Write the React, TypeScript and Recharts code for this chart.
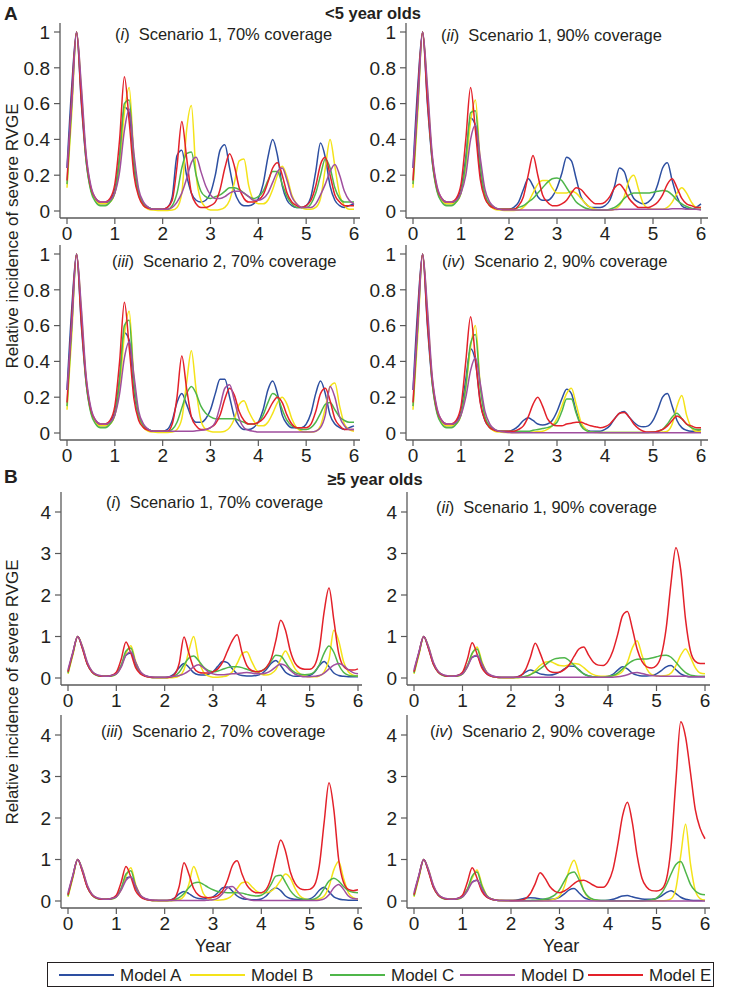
import React from "react"
import { LineChart, Line, XAxis, YAxis } from "recharts"

const FONT = "'Liberation Sans', Arial, Helvetica, sans-serif"

const YEARS = [
  0, 0.1, 0.2, 0.3, 0.4, 0.5, 0.6, 0.7, 0.8, 0.9, 1,
  1.1, 1.2, 1.3, 1.4, 1.5, 1.6, 1.7, 1.8, 1.9, 2,
  2.1, 2.2, 2.3, 2.4, 2.5, 2.6, 2.7, 2.8, 2.9, 3,
  3.1, 3.2, 3.3, 3.4, 3.5, 3.6, 3.7, 3.8, 3.9, 4,
  4.1, 4.2, 4.3, 4.4, 4.5, 4.6, 4.7, 4.8, 4.9, 5,
  5.1, 5.2, 5.3, 5.4, 5.5, 5.6, 5.7, 5.8, 5.9, 6,
]

const X_TICKS = [0, 1, 2, 3, 4, 5, 6]
const Y_TICKS_U5 = [0, 0.2, 0.4, 0.6, 0.8, 1]
const Y_TICKS_O5 = [0, 1, 2, 3, 4]

const MODELS = ["Model A", "Model B", "Model C", "Model D", "Model E"]
const COLORS = ["#2d4fa1", "#f4e31a", "#4fb64a", "#a04f9f", "#e3212a"]

// ---- <5 year olds, Scenario 1, 70% coverage ----
const U5_S1_70_A = [
  0.24, 0.70, 1.00, 0.60, 0.28, 0.12, 0.06, 0.04, 0.04, 0.06, 0.12, 0.30, 0.58, 0.55, 0.25, 0.09, 0.04, 0.02, 0.01, 0.01, 0.01,
  0.02, 0.08, 0.31, 0.34, 0.20, 0.10, 0.06, 0.05, 0.06, 0.10,
  0.20, 0.34, 0.37, 0.24, 0.11, 0.05, 0.03, 0.03, 0.04, 0.07,
  0.15, 0.30, 0.40, 0.31, 0.14, 0.06, 0.03, 0.02, 0.02, 0.03,
  0.08, 0.22, 0.38, 0.30, 0.14, 0.06, 0.03, 0.02, 0.03, 0.04,
]
const U5_S1_70_B = [
  0.13, 0.55, 1.00, 0.68, 0.30, 0.12, 0.06, 0.04, 0.04, 0.05, 0.10, 0.25, 0.55, 0.69, 0.30, 0.10, 0.03, 0.01, 0.005, 0.003, 0.003,
  0.003, 0.005, 0.02, 0.10, 0.45, 0.59, 0.20, 0.06, 0.02, 0.006,
  0.005, 0.008, 0.02, 0.06, 0.16, 0.28, 0.29, 0.14, 0.06, 0.04,
  0.04, 0.06, 0.12, 0.20, 0.25, 0.19, 0.09, 0.04, 0.02, 0.01,
  0.01, 0.02, 0.07, 0.24, 0.40, 0.25, 0.09, 0.03, 0.01, 0.01,
]
const U5_S1_70_C = [
  0.15, 0.60, 1.00, 0.65, 0.28, 0.11, 0.05, 0.03, 0.03, 0.05, 0.10, 0.30, 0.60, 0.62, 0.28, 0.10, 0.04, 0.02, 0.01, 0.01, 0.01,
  0.01, 0.03, 0.10, 0.24, 0.32, 0.33, 0.20, 0.11, 0.08, 0.07,
  0.08, 0.09, 0.11, 0.13, 0.13, 0.12, 0.10, 0.08, 0.07, 0.08,
  0.11, 0.17, 0.22, 0.22, 0.15, 0.08, 0.04, 0.02, 0.02, 0.02,
  0.04, 0.10, 0.20, 0.29, 0.24, 0.13, 0.07, 0.05, 0.05, 0.05,
]
const U5_S1_70_D = [
  0.24, 0.60, 1.00, 0.70, 0.32, 0.14, 0.07, 0.05, 0.05, 0.06, 0.10, 0.22, 0.45, 0.57, 0.32, 0.12, 0.05, 0.02, 0.01, 0.01, 0.01,
  0.01, 0.02, 0.05, 0.10, 0.18, 0.27, 0.30, 0.22, 0.14, 0.09,
  0.07, 0.07, 0.08, 0.10, 0.11, 0.11, 0.10, 0.08, 0.06, 0.06,
  0.07, 0.10, 0.16, 0.22, 0.24, 0.17, 0.08, 0.04, 0.02, 0.02,
  0.02, 0.04, 0.09, 0.15, 0.22, 0.26, 0.20, 0.11, 0.06, 0.04,
]
const U5_S1_70_E = [
  0.17, 0.65, 1.00, 0.62, 0.30, 0.13, 0.07, 0.05, 0.05, 0.07, 0.15, 0.40, 0.75, 0.50, 0.20, 0.08, 0.03, 0.015, 0.01, 0.01, 0.01,
  0.02, 0.06, 0.25, 0.50, 0.30, 0.10, 0.04, 0.02, 0.02, 0.03,
  0.05, 0.12, 0.24, 0.32, 0.25, 0.13, 0.07, 0.05, 0.05, 0.06,
  0.09, 0.16, 0.24, 0.27, 0.20, 0.10, 0.05, 0.03, 0.02, 0.03,
  0.06, 0.14, 0.26, 0.30, 0.20, 0.09, 0.05, 0.03, 0.03, 0.03,
]

// ---- <5 year olds, Scenario 1, 90% coverage ----
const U5_S1_90_A = [
  0.24, 0.70, 1.00, 0.60, 0.28, 0.12, 0.06, 0.04, 0.04, 0.06, 0.12, 0.30, 0.52, 0.48, 0.22, 0.08, 0.03, 0.015, 0.01, 0.01, 0.01,
  0.02, 0.05, 0.12, 0.18, 0.14, 0.08, 0.06, 0.06, 0.08, 0.13,
  0.21, 0.30, 0.28, 0.18, 0.08, 0.04, 0.02, 0.02, 0.02, 0.03,
  0.06, 0.14, 0.24, 0.22, 0.13, 0.07, 0.05, 0.04, 0.05, 0.08,
  0.15, 0.24, 0.27, 0.17, 0.08, 0.03, 0.015, 0.01, 0.02, 0.04,
]
const U5_S1_90_B = [
  0.13, 0.55, 1.00, 0.68, 0.30, 0.12, 0.06, 0.04, 0.04, 0.05, 0.10, 0.25, 0.50, 0.62, 0.28, 0.09, 0.03, 0.01, 0.005, 0.003, 0.003,
  0.003, 0.005, 0.02, 0.05, 0.10, 0.15, 0.17, 0.17, 0.13, 0.10,
  0.10, 0.10, 0.11, 0.10, 0.07, 0.04, 0.02, 0.01, 0.005, 0.005,
  0.005, 0.01, 0.03, 0.08, 0.17, 0.20, 0.12, 0.04, 0.015, 0.01,
  0.01, 0.01, 0.02, 0.05, 0.10, 0.13, 0.10, 0.05, 0.02, 0.02,
]
const U5_S1_90_C = [
  0.15, 0.60, 1.00, 0.65, 0.28, 0.11, 0.05, 0.03, 0.03, 0.05, 0.10, 0.28, 0.55, 0.56, 0.26, 0.09, 0.04, 0.02, 0.01, 0.01, 0.01,
  0.01, 0.02, 0.03, 0.05, 0.07, 0.10, 0.13, 0.16, 0.18, 0.185,
  0.17, 0.13, 0.09, 0.05, 0.03, 0.015, 0.008, 0.005, 0.005, 0.005,
  0.01, 0.02, 0.04, 0.07, 0.09, 0.10, 0.10, 0.10, 0.10, 0.105,
  0.11, 0.115, 0.11, 0.09, 0.06, 0.04, 0.025, 0.015, 0.01, 0.01,
]
const U5_S1_90_D = [
  0.24, 0.60, 1.00, 0.70, 0.32, 0.14, 0.07, 0.05, 0.05, 0.06, 0.10, 0.20, 0.40, 0.48, 0.30, 0.12, 0.05, 0.02, 0.01, 0.005, 0.005,
  0.005, 0.005, 0.005, 0.005, 0.005, 0.005, 0.005, 0.005, 0.005, 0.005,
  0.005, 0.005, 0.005, 0.005, 0.005, 0.005, 0.005, 0.005, 0.005, 0.005,
  0.006, 0.008, 0.01, 0.01, 0.01, 0.01, 0.01, 0.01, 0.01, 0.01,
  0.01, 0.01, 0.01, 0.012, 0.012, 0.012, 0.01, 0.01, 0.01, 0.005,
]
const U5_S1_90_E = [
  0.17, 0.65, 1.00, 0.62, 0.30, 0.13, 0.07, 0.05, 0.05, 0.07, 0.15, 0.40, 0.69, 0.45, 0.18, 0.07, 0.03, 0.015, 0.01, 0.01, 0.01,
  0.01, 0.03, 0.08, 0.20, 0.31, 0.20, 0.09, 0.05, 0.03, 0.03,
  0.04, 0.06, 0.10, 0.13, 0.12, 0.09, 0.06, 0.04, 0.04, 0.05,
  0.08, 0.13, 0.15, 0.12, 0.07, 0.04, 0.02, 0.02, 0.02, 0.03,
  0.05, 0.09, 0.15, 0.18, 0.13, 0.07, 0.04, 0.03, 0.02, 0.02,
]

// ---- <5 year olds, Scenario 2, 70% coverage ----
const U5_S2_70_A = [
  0.24, 0.70, 1.00, 0.60, 0.28, 0.12, 0.06, 0.04, 0.04, 0.06, 0.12, 0.30, 0.56, 0.52, 0.24, 0.09, 0.04, 0.02, 0.01, 0.01, 0.01,
  0.02, 0.07, 0.17, 0.22, 0.16, 0.09, 0.06, 0.06, 0.08, 0.13,
  0.22, 0.30, 0.30, 0.20, 0.09, 0.04, 0.02, 0.02, 0.03, 0.06,
  0.13, 0.24, 0.29, 0.22, 0.10, 0.05, 0.03, 0.03, 0.03, 0.05,
  0.11, 0.22, 0.29, 0.22, 0.10, 0.05, 0.03, 0.02, 0.03, 0.04,
]
const U5_S2_70_B = [
  0.13, 0.55, 1.00, 0.68, 0.30, 0.12, 0.06, 0.04, 0.04, 0.05, 0.10, 0.25, 0.55, 0.68, 0.30, 0.10, 0.03, 0.01, 0.005, 0.003, 0.003,
  0.003, 0.005, 0.02, 0.08, 0.28, 0.46, 0.24, 0.07, 0.02, 0.008,
  0.005, 0.006, 0.01, 0.03, 0.08, 0.16, 0.18, 0.12, 0.07, 0.04,
  0.04, 0.06, 0.11, 0.17, 0.20, 0.16, 0.08, 0.03, 0.01, 0.005,
  0.005, 0.01, 0.04, 0.14, 0.26, 0.28, 0.15, 0.05, 0.02, 0.01,
]
const U5_S2_70_C = [
  0.15, 0.60, 1.00, 0.65, 0.28, 0.11, 0.05, 0.03, 0.03, 0.05, 0.10, 0.30, 0.60, 0.63, 0.28, 0.10, 0.04, 0.02, 0.01, 0.01, 0.01,
  0.01, 0.02, 0.06, 0.14, 0.22, 0.26, 0.22, 0.15, 0.11, 0.09,
  0.08, 0.08, 0.08, 0.08, 0.08, 0.07, 0.06, 0.05, 0.05, 0.06,
  0.10, 0.17, 0.22, 0.20, 0.13, 0.07, 0.04, 0.03, 0.02, 0.02,
  0.03, 0.06, 0.11, 0.16, 0.17, 0.13, 0.09, 0.07, 0.06, 0.06,
]
const U5_S2_70_D = [
  0.24, 0.60, 1.00, 0.70, 0.32, 0.14, 0.07, 0.05, 0.05, 0.06, 0.10, 0.22, 0.42, 0.51, 0.32, 0.12, 0.05, 0.02, 0.01, 0.01, 0.01,
  0.01, 0.01, 0.01, 0.01, 0.01, 0.01, 0.012, 0.015, 0.02, 0.03,
  0.06, 0.15, 0.25, 0.27, 0.18, 0.08, 0.03, 0.015, 0.01, 0.005,
  0.005, 0.005, 0.005, 0.005, 0.005, 0.005, 0.005, 0.005, 0.005, 0.005,
  0.006, 0.01, 0.03, 0.10, 0.26, 0.20, 0.09, 0.04, 0.02, 0.02,
]
const U5_S2_70_E = [
  0.17, 0.65, 1.00, 0.62, 0.30, 0.13, 0.07, 0.05, 0.05, 0.07, 0.15, 0.40, 0.73, 0.48, 0.19, 0.07, 0.03, 0.015, 0.01, 0.01, 0.01,
  0.01, 0.05, 0.20, 0.43, 0.25, 0.09, 0.04, 0.02, 0.02, 0.03,
  0.05, 0.10, 0.19, 0.25, 0.21, 0.12, 0.07, 0.05, 0.05, 0.06,
  0.08, 0.12, 0.17, 0.20, 0.17, 0.10, 0.05, 0.03, 0.03, 0.03,
  0.05, 0.12, 0.22, 0.25, 0.18, 0.08, 0.04, 0.02, 0.02, 0.02,
]

// ---- <5 year olds, Scenario 2, 90% coverage ----
const U5_S2_90_A = [
  0.24, 0.70, 1.00, 0.60, 0.28, 0.12, 0.06, 0.04, 0.04, 0.06, 0.12, 0.30, 0.47, 0.40, 0.18, 0.07, 0.03, 0.015, 0.01, 0.01, 0.01,
  0.02, 0.04, 0.07, 0.085, 0.07, 0.05, 0.045, 0.05, 0.07, 0.12,
  0.19, 0.245, 0.22, 0.12, 0.05, 0.02, 0.01, 0.01, 0.01, 0.02,
  0.04, 0.08, 0.11, 0.12, 0.09, 0.06, 0.04, 0.035, 0.04, 0.07,
  0.13, 0.20, 0.22, 0.15, 0.07, 0.03, 0.015, 0.01, 0.01, 0.02,
]
const U5_S2_90_B = [
  0.13, 0.55, 1.00, 0.68, 0.30, 0.12, 0.06, 0.04, 0.04, 0.05, 0.10, 0.25, 0.48, 0.60, 0.27, 0.09, 0.03, 0.01, 0.005, 0.003, 0.003,
  0.003, 0.003, 0.004, 0.005, 0.006, 0.008, 0.01, 0.02, 0.04, 0.08,
  0.15, 0.22, 0.25, 0.16, 0.06, 0.02, 0.005, 0.003, 0.003, 0.003,
  0.003, 0.003, 0.003, 0.003, 0.003, 0.003, 0.003, 0.003, 0.003, 0.003,
  0.003, 0.005, 0.01, 0.05, 0.15, 0.21, 0.10, 0.03, 0.01, 0.01,
]
const U5_S2_90_C = [
  0.15, 0.60, 1.00, 0.65, 0.28, 0.11, 0.05, 0.03, 0.03, 0.05, 0.10, 0.26, 0.50, 0.55, 0.26, 0.09, 0.04, 0.02, 0.01, 0.01, 0.01,
  0.01, 0.01, 0.01, 0.01, 0.015, 0.02, 0.025, 0.03, 0.04, 0.06,
  0.12, 0.19, 0.19, 0.11, 0.04, 0.015, 0.005, 0.004, 0.003, 0.003,
  0.003, 0.003, 0.003, 0.003, 0.003, 0.003, 0.003, 0.003, 0.003, 0.005,
  0.01, 0.02, 0.05, 0.09, 0.11, 0.08, 0.05, 0.03, 0.02, 0.02,
]
const U5_S2_90_D = [
  0.24, 0.60, 1.00, 0.70, 0.32, 0.14, 0.07, 0.05, 0.05, 0.06, 0.10, 0.20, 0.35, 0.42, 0.28, 0.12, 0.05, 0.02, 0.01, 0.005, 0.003,
  0.002, 0.002, 0.002, 0.002, 0.002, 0.002, 0.002, 0.002, 0.002, 0.002,
  0.002, 0.002, 0.002, 0.002, 0.002, 0.002, 0.002, 0.002, 0.002, 0.002,
  0.002, 0.002, 0.002, 0.002, 0.002, 0.002, 0.002, 0.002, 0.002, 0.002,
  0.002, 0.002, 0.002, 0.002, 0.002, 0.002, 0.002, 0.002, 0.002, 0.002,
]
const U5_S2_90_E = [
  0.17, 0.65, 1.00, 0.62, 0.30, 0.13, 0.07, 0.05, 0.05, 0.07, 0.15, 0.40, 0.65, 0.42, 0.17, 0.07, 0.03, 0.015, 0.01, 0.01, 0.01,
  0.01, 0.02, 0.04, 0.09, 0.16, 0.20, 0.15, 0.08, 0.05, 0.04,
  0.04, 0.05, 0.055, 0.06, 0.06, 0.05, 0.04, 0.035, 0.03, 0.035,
  0.05, 0.08, 0.11, 0.115, 0.09, 0.05, 0.025, 0.01, 0.005, 0.005,
  0.01, 0.02, 0.04, 0.07, 0.095, 0.08, 0.05, 0.04, 0.03, 0.03,
]

// ---- >=5 year olds, Scenario 1, 70% coverage ----
const O5_S1_70_A = [
  0.15, 0.60, 1.00, 0.72, 0.34, 0.15, 0.07, 0.04, 0.04, 0.06, 0.12, 0.30, 0.55, 0.60, 0.32, 0.12, 0.05, 0.02, 0.01, 0.01, 0.01,
  0.03, 0.10, 0.25, 0.35, 0.26, 0.13, 0.08, 0.07, 0.09, 0.15,
  0.28, 0.40, 0.37, 0.22, 0.10, 0.06, 0.05, 0.05, 0.06, 0.10,
  0.20, 0.35, 0.42, 0.30, 0.14, 0.07, 0.04, 0.04, 0.04, 0.06,
  0.14, 0.30, 0.40, 0.27, 0.12, 0.06, 0.04, 0.03, 0.03, 0.03,
]
const O5_S1_70_B = [
  0.10, 0.55, 1.00, 0.75, 0.36, 0.15, 0.07, 0.04, 0.04, 0.05, 0.10, 0.28, 0.60, 0.78, 0.40, 0.14, 0.05, 0.02, 0.01, 0.005, 0.005,
  0.005, 0.01, 0.05, 0.20, 0.65, 1.00, 0.45, 0.15, 0.05, 0.02,
  0.02, 0.03, 0.06, 0.15, 0.35, 0.58, 0.63, 0.40, 0.18, 0.09,
  0.07, 0.10, 0.20, 0.45, 0.65, 0.45, 0.22, 0.10, 0.05, 0.03,
  0.03, 0.05, 0.15, 0.45, 1.15, 0.90, 0.40, 0.15, 0.07, 0.05,
]
const O5_S1_70_C = [
  0.12, 0.58, 1.00, 0.72, 0.34, 0.14, 0.06, 0.04, 0.04, 0.05, 0.10, 0.30, 0.65, 0.72, 0.36, 0.13, 0.05, 0.02, 0.01, 0.01, 0.01,
  0.02, 0.05, 0.14, 0.32, 0.48, 0.53, 0.42, 0.27, 0.18, 0.15,
  0.17, 0.21, 0.25, 0.27, 0.27, 0.25, 0.21, 0.17, 0.15, 0.17,
  0.25, 0.40, 0.55, 0.53, 0.38, 0.22, 0.13, 0.09, 0.08, 0.09,
  0.15, 0.32, 0.60, 0.77, 0.62, 0.32, 0.14, 0.07, 0.05, 0.05,
]
const O5_S1_70_D = [
  0.20, 0.62, 1.00, 0.75, 0.38, 0.16, 0.08, 0.05, 0.04, 0.06, 0.10, 0.26, 0.55, 0.63, 0.38, 0.15, 0.06, 0.03, 0.02, 0.02, 0.02,
  0.03, 0.04, 0.06, 0.10, 0.17, 0.27, 0.32, 0.25, 0.15, 0.10,
  0.08, 0.08, 0.09, 0.10, 0.11, 0.12, 0.13, 0.12, 0.10, 0.10,
  0.12, 0.18, 0.27, 0.34, 0.30, 0.18, 0.09, 0.05, 0.03, 0.03,
  0.04, 0.06, 0.12, 0.22, 0.31, 0.35, 0.30, 0.20, 0.13, 0.10,
]
const O5_S1_70_E = [
  0.15, 0.60, 1.00, 0.70, 0.33, 0.14, 0.07, 0.04, 0.04, 0.06, 0.14, 0.45, 0.87, 0.60, 0.25, 0.10, 0.04, 0.02, 0.01, 0.01, 0.01,
  0.02, 0.08, 0.35, 0.99, 0.60, 0.25, 0.14, 0.12, 0.12, 0.15,
  0.22, 0.38, 0.65, 0.90, 1.04, 0.62, 0.30, 0.18, 0.15, 0.17,
  0.25, 0.45, 0.90, 1.39, 1.15, 0.65, 0.35, 0.24, 0.21, 0.21,
  0.30, 0.70, 1.60, 2.17, 1.40, 0.60, 0.28, 0.20, 0.19, 0.22,
]

// ---- >=5 year olds, Scenario 1, 90% coverage ----
const O5_S1_90_A = [
  0.15, 0.60, 1.00, 0.72, 0.34, 0.15, 0.07, 0.04, 0.04, 0.06, 0.12, 0.30, 0.50, 0.53, 0.28, 0.10, 0.04, 0.02, 0.01, 0.01, 0.01,
  0.02, 0.06, 0.14, 0.19, 0.15, 0.10, 0.08, 0.07, 0.09, 0.14,
  0.22, 0.29, 0.28, 0.20, 0.10, 0.05, 0.03, 0.02, 0.02, 0.04,
  0.09, 0.19, 0.27, 0.22, 0.12, 0.07, 0.05, 0.05, 0.06, 0.10,
  0.18, 0.27, 0.30, 0.20, 0.10, 0.05, 0.03, 0.03, 0.03, 0.03,
]
const O5_S1_90_B = [
  0.10, 0.55, 1.00, 0.75, 0.36, 0.15, 0.07, 0.04, 0.04, 0.05, 0.10, 0.28, 0.58, 0.75, 0.40, 0.14, 0.05, 0.02, 0.01, 0.005, 0.005,
  0.005, 0.01, 0.03, 0.08, 0.18, 0.30, 0.38, 0.40, 0.35, 0.30,
  0.29, 0.32, 0.35, 0.33, 0.25, 0.15, 0.08, 0.05, 0.04, 0.04,
  0.05, 0.08, 0.16, 0.38, 0.72, 0.90, 0.55, 0.22, 0.08, 0.05,
  0.05, 0.06, 0.12, 0.30, 0.55, 0.70, 0.50, 0.25, 0.12, 0.10,
]
const O5_S1_90_C = [
  0.12, 0.58, 1.00, 0.72, 0.34, 0.14, 0.06, 0.04, 0.04, 0.05, 0.10, 0.28, 0.60, 0.70, 0.36, 0.13, 0.05, 0.02, 0.01, 0.01, 0.01,
  0.01, 0.02, 0.04, 0.08, 0.14, 0.22, 0.31, 0.40, 0.46, 0.48,
  0.49, 0.42, 0.31, 0.19, 0.10, 0.05, 0.03, 0.02, 0.02, 0.03,
  0.06, 0.12, 0.22, 0.33, 0.41, 0.45, 0.46, 0.46, 0.48, 0.51,
  0.54, 0.55, 0.50, 0.38, 0.24, 0.13, 0.07, 0.05, 0.04, 0.04,
]
const O5_S1_90_D = [
  0.20, 0.62, 1.00, 0.75, 0.38, 0.16, 0.08, 0.05, 0.04, 0.06, 0.10, 0.26, 0.50, 0.55, 0.34, 0.14, 0.06, 0.03, 0.02, 0.02, 0.02,
  0.02, 0.02, 0.02, 0.02, 0.02, 0.02, 0.02, 0.02, 0.02, 0.02,
  0.02, 0.02, 0.02, 0.02, 0.02, 0.02, 0.02, 0.02, 0.02, 0.02,
  0.02, 0.03, 0.05, 0.08, 0.12, 0.13, 0.11, 0.08, 0.06, 0.05,
  0.04, 0.04, 0.04, 0.04, 0.04, 0.04, 0.03, 0.03, 0.03, 0.03,
]
const O5_S1_90_E = [
  0.15, 0.60, 1.00, 0.70, 0.33, 0.14, 0.07, 0.04, 0.04, 0.06, 0.14, 0.45, 0.85, 0.58, 0.24, 0.10, 0.04, 0.02, 0.01, 0.01, 0.01,
  0.02, 0.06, 0.20, 0.50, 0.84, 0.60, 0.30, 0.16, 0.13, 0.14,
  0.20, 0.32, 0.52, 0.70, 0.75, 0.55, 0.38, 0.31, 0.30, 0.40,
  0.65, 1.05, 1.50, 1.60, 1.20, 0.70, 0.40, 0.27, 0.24, 0.30,
  0.55, 1.20, 2.30, 3.14, 2.60, 1.40, 0.65, 0.40, 0.35, 0.35,
]

// ---- >=5 year olds, Scenario 2, 70% coverage ----
const O5_S2_70_A = [
  0.15, 0.60, 1.00, 0.72, 0.34, 0.15, 0.07, 0.04, 0.04, 0.06, 0.12, 0.30, 0.55, 0.58, 0.32, 0.12, 0.05, 0.02, 0.01, 0.01, 0.01,
  0.02, 0.07, 0.17, 0.23, 0.18, 0.10, 0.06, 0.05, 0.06, 0.10,
  0.20, 0.32, 0.34, 0.24, 0.12, 0.06, 0.04, 0.03, 0.03, 0.05,
  0.12, 0.25, 0.32, 0.25, 0.12, 0.06, 0.04, 0.03, 0.03, 0.05,
  0.12, 0.26, 0.33, 0.22, 0.10, 0.05, 0.03, 0.02, 0.02, 0.02,
]
const O5_S2_70_B = [
  0.10, 0.55, 1.00, 0.75, 0.36, 0.15, 0.07, 0.04, 0.04, 0.05, 0.10, 0.28, 0.60, 0.80, 0.40, 0.14, 0.05, 0.02, 0.01, 0.005, 0.005,
  0.005, 0.01, 0.03, 0.12, 0.40, 0.83, 0.55, 0.18, 0.06, 0.03,
  0.02, 0.03, 0.06, 0.14, 0.30, 0.44, 0.46, 0.35, 0.24, 0.20,
  0.20, 0.24, 0.33, 0.50, 0.65, 0.55, 0.30, 0.12, 0.05, 0.03,
  0.03, 0.05, 0.12, 0.35, 0.75, 0.95, 0.55, 0.20, 0.08, 0.05,
]
const O5_S2_70_C = [
  0.12, 0.58, 1.00, 0.72, 0.34, 0.14, 0.06, 0.04, 0.04, 0.05, 0.10, 0.30, 0.65, 0.73, 0.36, 0.13, 0.05, 0.02, 0.01, 0.01, 0.01,
  0.01, 0.03, 0.08, 0.18, 0.32, 0.43, 0.45, 0.40, 0.33, 0.27,
  0.23, 0.21, 0.20, 0.20, 0.20, 0.19, 0.16, 0.13, 0.12, 0.14,
  0.22, 0.40, 0.60, 0.62, 0.45, 0.25, 0.12, 0.06, 0.04, 0.03,
  0.05, 0.12, 0.30, 0.48, 0.55, 0.48, 0.35, 0.25, 0.21, 0.20,
]
const O5_S2_70_D = [
  0.20, 0.62, 1.00, 0.75, 0.38, 0.16, 0.08, 0.05, 0.04, 0.06, 0.10, 0.26, 0.50, 0.58, 0.36, 0.14, 0.06, 0.03, 0.02, 0.01, 0.01,
  0.01, 0.01, 0.01, 0.01, 0.01, 0.01, 0.01, 0.01, 0.02, 0.03,
  0.07, 0.18, 0.32, 0.35, 0.24, 0.12, 0.05, 0.02, 0.01, 0.01,
  0.01, 0.01, 0.01, 0.01, 0.01, 0.01, 0.01, 0.01, 0.01, 0.01,
  0.01, 0.02, 0.05, 0.15, 0.32, 0.40, 0.28, 0.12, 0.06, 0.05,
]
const O5_S2_70_E = [
  0.15, 0.60, 1.00, 0.70, 0.33, 0.14, 0.07, 0.04, 0.04, 0.06, 0.14, 0.45, 0.83, 0.58, 0.24, 0.10, 0.04, 0.02, 0.01, 0.01, 0.01,
  0.02, 0.06, 0.35, 0.92, 0.65, 0.30, 0.14, 0.09, 0.08, 0.09,
  0.13, 0.25, 0.50, 0.85, 0.97, 0.65, 0.38, 0.25, 0.20, 0.20,
  0.28, 0.55, 1.05, 1.47, 1.20, 0.70, 0.42, 0.30, 0.27, 0.28,
  0.38, 0.85, 1.90, 2.85, 2.20, 1.00, 0.45, 0.28, 0.25, 0.27,
]

// ---- >=5 year olds, Scenario 2, 90% coverage ----
const O5_S2_90_A = [
  0.15, 0.60, 1.00, 0.72, 0.34, 0.15, 0.07, 0.04, 0.04, 0.06, 0.12, 0.28, 0.46, 0.50, 0.28, 0.10, 0.04, 0.02, 0.01, 0.01, 0.01,
  0.02, 0.04, 0.07, 0.08, 0.07, 0.05, 0.04, 0.04, 0.05, 0.09,
  0.17, 0.27, 0.30, 0.20, 0.09, 0.04, 0.02, 0.01, 0.01, 0.02,
  0.04, 0.08, 0.12, 0.13, 0.10, 0.07, 0.05, 0.04, 0.04, 0.06,
  0.12, 0.20, 0.25, 0.18, 0.09, 0.04, 0.02, 0.01, 0.01, 0.01,
]
const O5_S2_90_B = [
  0.10, 0.55, 1.00, 0.75, 0.36, 0.15, 0.07, 0.04, 0.04, 0.05, 0.10, 0.28, 0.55, 0.75, 0.40, 0.14, 0.05, 0.02, 0.01, 0.005, 0.005,
  0.005, 0.005, 0.005, 0.005, 0.005, 0.008, 0.012, 0.02, 0.05, 0.12,
  0.35, 0.75, 0.98, 0.65, 0.25, 0.08, 0.03, 0.01, 0.005, 0.005,
  0.005, 0.005, 0.005, 0.005, 0.005, 0.005, 0.005, 0.005, 0.005, 0.005,
  0.005, 0.01, 0.05, 0.30, 1.10, 1.85, 0.90, 0.25, 0.06, 0.02,
]
const O5_S2_90_C = [
  0.12, 0.58, 1.00, 0.72, 0.34, 0.14, 0.06, 0.04, 0.04, 0.05, 0.10, 0.28, 0.60, 0.70, 0.36, 0.13, 0.05, 0.02, 0.01, 0.01, 0.01,
  0.01, 0.01, 0.01, 0.015, 0.02, 0.03, 0.05, 0.08, 0.14, 0.27,
  0.48, 0.66, 0.70, 0.52, 0.25, 0.10, 0.04, 0.02, 0.01, 0.01,
  0.005, 0.005, 0.005, 0.005, 0.005, 0.005, 0.008, 0.015, 0.03, 0.07,
  0.18, 0.38, 0.65, 0.88, 0.95, 0.70, 0.40, 0.24, 0.17, 0.15,
]
const O5_S2_90_D = [
  0.20, 0.62, 1.00, 0.75, 0.38, 0.16, 0.08, 0.05, 0.04, 0.06, 0.10, 0.24, 0.45, 0.50, 0.30, 0.12, 0.05, 0.02, 0.01, 0.005, 0.003,
  0.003, 0.003, 0.003, 0.003, 0.003, 0.003, 0.003, 0.003, 0.003, 0.003,
  0.003, 0.003, 0.003, 0.003, 0.003, 0.003, 0.003, 0.003, 0.003, 0.003,
  0.003, 0.003, 0.003, 0.003, 0.003, 0.003, 0.003, 0.003, 0.003, 0.003,
  0.003, 0.003, 0.003, 0.003, 0.003, 0.003, 0.003, 0.003, 0.003, 0.003,
]
const O5_S2_90_E = [
  0.15, 0.60, 1.00, 0.70, 0.33, 0.14, 0.07, 0.04, 0.04, 0.06, 0.14, 0.45, 0.80, 0.55, 0.23, 0.09, 0.04, 0.02, 0.01, 0.01, 0.01,
  0.01, 0.02, 0.06, 0.18, 0.42, 0.68, 0.55, 0.35, 0.24, 0.20,
  0.24, 0.32, 0.42, 0.49, 0.50, 0.45, 0.38, 0.33, 0.33, 0.45,
  0.75, 1.35, 2.05, 2.38, 1.90, 1.10, 0.55, 0.33, 0.25, 0.24,
  0.28, 0.50, 1.30, 2.90, 4.32, 3.95, 3.10, 2.20, 1.75, 1.50,
]

type PanelSpec = {
  title: string
  num: string
  left: number
  top: number
  width: number
  height: number
  x0: number
  x6: number
  yZero: number
  yRef: number
  refVal: number
  yTicks: number[]
  series: number[][]
  titleX: number
  titleY: number
}

const AXIS_W = 60
const TOP_PAD = 10
const RIGHT_PAD = 14
const X_AXIS_H = 36

const PANELS: PanelSpec[] = [
  { num: "i", title: "Scenario 1, 70% coverage", left: 60, top: 23, width: 300, height: 195, x0: 67, x6: 354, yZero: 211, yRef: 32, refVal: 1, yTicks: Y_TICKS_U5,
    series: [U5_S1_70_A, U5_S1_70_B, U5_S1_70_C, U5_S1_70_D, U5_S1_70_E], titleX: 115, titleY: 34 },
  { num: "ii", title: "Scenario 1, 90% coverage", left: 406, top: 23, width: 302, height: 195, x0: 413, x6: 701, yZero: 211, yRef: 32, refVal: 1, yTicks: Y_TICKS_U5,
    series: [U5_S1_90_A, U5_S1_90_B, U5_S1_90_C, U5_S1_90_D, U5_S1_90_E], titleX: 441, titleY: 35 },
  { num: "iii", title: "Scenario 2, 70% coverage", left: 60, top: 245, width: 300, height: 195, x0: 67, x6: 354, yZero: 433, yRef: 254, refVal: 1, yTicks: Y_TICKS_U5,
    series: [U5_S2_70_A, U5_S2_70_B, U5_S2_70_C, U5_S2_70_D, U5_S2_70_E], titleX: 112, titleY: 261 },
  { num: "iv", title: "Scenario 2, 90% coverage", left: 406, top: 245, width: 302, height: 195, x0: 413, x6: 701, yZero: 433, yRef: 254, refVal: 1, yTicks: Y_TICKS_U5,
    series: [U5_S2_90_A, U5_S2_90_B, U5_S2_90_C, U5_S2_90_D, U5_S2_90_E], titleX: 442, titleY: 261 },
  { num: "i", title: "Scenario 1, 70% coverage", left: 61, top: 492, width: 301, height: 193, x0: 68, x6: 358, yZero: 678, yRef: 512, refVal: 4, yTicks: Y_TICKS_O5,
    series: [O5_S1_70_A, O5_S1_70_B, O5_S1_70_C, O5_S1_70_D, O5_S1_70_E], titleX: 106, titleY: 502 },
  { num: "ii", title: "Scenario 1, 90% coverage", left: 407, top: 492, width: 303, height: 193, x0: 414, x6: 705, yZero: 678, yRef: 512, refVal: 4, yTicks: Y_TICKS_O5,
    series: [O5_S1_90_A, O5_S1_90_B, O5_S1_90_C, O5_S1_90_D, O5_S1_90_E], titleX: 436, titleY: 507 },
  { num: "iii", title: "Scenario 2, 70% coverage", left: 61, top: 715, width: 301, height: 193, x0: 68, x6: 358, yZero: 901, yRef: 735, refVal: 4, yTicks: Y_TICKS_O5,
    series: [O5_S2_70_A, O5_S2_70_B, O5_S2_70_C, O5_S2_70_D, O5_S2_70_E], titleX: 101, titleY: 731 },
  { num: "iv", title: "Scenario 2, 90% coverage", left: 407, top: 715, width: 303, height: 193, x0: 414, x6: 705, yZero: 901, yRef: 735, refVal: 4, yTicks: Y_TICKS_O5,
    series: [O5_S2_90_A, O5_S2_90_B, O5_S2_90_C, O5_S2_90_D, O5_S2_90_E], titleX: 430, titleY: 731 },
]

const KEYS = ["a", "b", "c", "d", "e"]
// draw order: red under purple so the flat purple line stays visible
const DRAW_ORDER = [0, 1, 2, 4, 3]

function Panel({ p }: { p: PanelSpec }) {
  const pxYear = (p.x6 - p.x0) / 6
  const xDomain = [-(p.x0 - p.left) / pxYear, (p.left + p.width - p.x0) / pxYear]
  const pxUnit = (p.yZero - p.yRef) / p.refVal
  const yDomain = [-(p.top + p.height - p.yZero) / pxUnit, (p.yZero - p.top) / pxUnit]
  const rows = YEARS.map((x, i) => {
    const row: Record<string, number> = { x }
    p.series.forEach((s, k) => { row[KEYS[k]] = s[i] })
    return row
  })
  const tick = { fill: "#231f20", fontSize: 19, fontFamily: FONT }
  return (
    <div style={{ position: "absolute", left: p.left - AXIS_W, top: p.top - TOP_PAD }}>
      <LineChart
        width={AXIS_W + p.width + RIGHT_PAD}
        height={TOP_PAD + p.height + X_AXIS_H}
        data={rows}
        margin={{ top: TOP_PAD, right: RIGHT_PAD, bottom: 0, left: 0 }}
      >
        <XAxis
          type="number" dataKey="x" domain={xDomain} ticks={X_TICKS} allowDataOverflow interval={0}
          height={X_AXIS_H} tick={tick} tickSize={6} tickMargin={3}
          axisLine={{ stroke: "#5a5a5a", strokeWidth: 1.3 }} tickLine={{ stroke: "#5a5a5a", strokeWidth: 1.2 }}
        />
        <YAxis
          type="number" domain={yDomain} ticks={p.yTicks} allowDataOverflow interval={0}
          width={AXIS_W} tick={tick} tickSize={6} tickMargin={4}
          axisLine={{ stroke: "#5a5a5a", strokeWidth: 1.3 }} tickLine={{ stroke: "#5a5a5a", strokeWidth: 1.2 }}
        />
        {DRAW_ORDER.map(k => (
          <Line
            key={k} type="monotone" dataKey={KEYS[k]} name={MODELS[k]} stroke={COLORS[k]}
            strokeWidth={1.5} dot={false} activeDot={false} isAnimationActive={false}
          />
        ))}
      </LineChart>
      <div
        style={{
          position: "absolute", left: p.titleX - p.left + AXIS_W, top: p.titleY - p.top + TOP_PAD,
          transform: "translateY(-50%)", fontSize: 16.5, lineHeight: 1, color: "#231f20", whiteSpace: "nowrap",
        }}
      >
        (<i>{p.num}</i>)<span style={{ marginLeft: 9 }}>{p.title}</span>
      </div>
    </div>
  )
}

const text = (extra: React.CSSProperties): React.CSSProperties => ({
  position: "absolute", lineHeight: 1, color: "#231f20", whiteSpace: "nowrap", ...extra,
})

export default function App() {
  const legendStarts = [59, 190, 330, 460, 588]
  return (
    <div style={{ position: "absolute", left: 0, top: 0, width: 730, height: 992, background: "#fff", fontFamily: FONT, overflow: "hidden" }}>
      {PANELS.map((p, i) => <Panel key={i} p={p} />)}

      <div style={text({ left: 4, top: 13, transform: "translateY(-50%)", fontSize: 19, fontWeight: "bold" })}>A</div>
      <div style={text({ left: 373, top: 13, transform: "translate(-50%,-50%)", fontSize: 16.5, fontWeight: "bold" })}>&lt;5 year olds</div>
      <div style={text({ left: 4, top: 476, transform: "translateY(-50%)", fontSize: 19, fontWeight: "bold" })}>B</div>
      <div style={text({ left: 375, top: 479, transform: "translate(-50%,-50%)", fontSize: 16.5, fontWeight: "bold" })}>≥5 year olds</div>

      <div style={text({ left: 12, top: 236, transform: "translate(-50%,-50%) rotate(-90deg)", fontSize: 17 })}>Relative incidence of severe RVGE</div>
      <div style={text({ left: 12, top: 692, transform: "translate(-50%,-50%) rotate(-90deg)", fontSize: 17 })}>Relative incidence of severe RVGE</div>

      <div style={text({ left: 213, top: 946, transform: "translate(-50%,-50%)", fontSize: 18 })}>Year</div>
      <div style={text({ left: 561, top: 946, transform: "translate(-50%,-50%)", fontSize: 18 })}>Year</div>

      <div style={{ position: "absolute", left: 47, top: 962, width: 667, height: 25, border: "1px solid #231f20", boxSizing: "border-box" }} />
      {MODELS.map((m, k) => (
        <React.Fragment key={m}>
          <div style={{ position: "absolute", left: legendStarts[k], top: 974, width: 55, height: 2, background: COLORS[k] }} />
          <div style={text({ left: legendStarts[k] + 61, top: 975, transform: "translateY(-50%)", fontSize: 17 })}>{m}</div>
        </React.Fragment>
      ))}
    </div>
  )
}
